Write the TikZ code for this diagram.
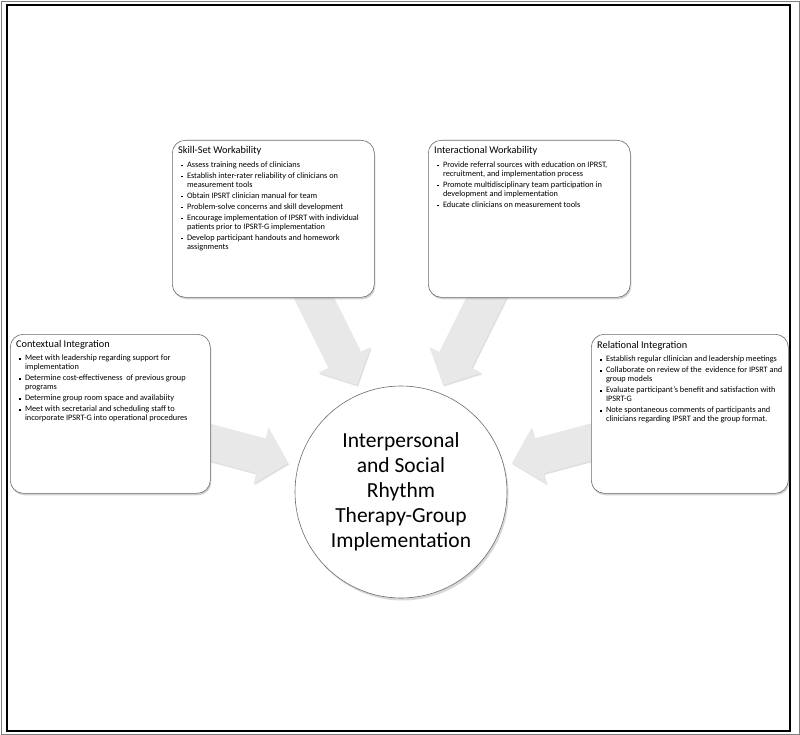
\documentclass[tikz,border=0pt]{standalone}
\usepackage{fontspec}
\setmainfont{Carlito}
\usetikzlibrary{calc,shadows}
\tikzset{
  panel/.style={draw=gray!85!black, line width=0.6pt, fill=white, rounded corners=13pt,
    drop shadow={shadow xshift=1pt, shadow yshift=-2pt, opacity=0.35}},
  paneltitle/.style={anchor=west, inner sep=0pt, font=\fontsize{10.3}{12}\selectfont},
  panellist/.style={anchor=north west, inner sep=0pt, font=\fontsize{8.3}{9}\selectfont},
  hub/.style={circle, draw=gray!85!black, line width=0.6pt, fill=white, minimum size=212pt,
    inner sep=0pt, align=center, font=\fontsize{21.5}{25}\selectfont,
    drop shadow={shadow xshift=1.5pt, shadow yshift=-2.5pt, opacity=0.3}},
  blockarrow/.style={fill=gray!18, draw=none,
    drop shadow={shadow xshift=1pt, shadow yshift=-1.5pt, opacity=0.25}},
}
\newcommand{\bul}{\raisebox{1pt}{\rule{1.8pt}{1.8pt}}}
\newcommand{\barrow}[3]{% name, start, end
  \coordinate (#1-s) at (#2);
  \coordinate (#1-e) at (#3);
  \coordinate (#1-hb) at ($(#1-e)!28pt!(#1-s)$);
  \fill[blockarrow] ($(#1-s)!18pt!90:(#1-e)$) -- ($(#1-hb)!18pt!-90:(#1-s)$)
     -- ($(#1-hb)!29pt!-90:(#1-s)$) -- (#1-e) -- ($(#1-hb)!29pt!90:(#1-s)$)
     -- ($(#1-hb)!18pt!90:(#1-s)$) -- ($(#1-s)!18pt!-90:(#1-e)$) -- cycle;
}
\begin{document}
\begin{tikzpicture}[x=1pt,y=1pt]
\useasboundingbox (0,0) rectangle (800,-735);
\fill[white] (0,0) rectangle (800,-735);
% frame
\draw[gray, line width=0.8pt] (1,-1) rectangle (799,-734);
\draw[black, line width=2.8pt] (7,-5) rectangle (790,-731);

% block arrows
\barrow{a1}{300,-270}{357,-385}
\barrow{a2}{500,-270}{443,-385}
\barrow{a3}{190,-437}{288,-463}
\barrow{a4}{610,-437}{512,-463}

% panels
\node[panel, minimum width=202pt, minimum height=157pt, anchor=north west] (ss) at (172,-140) {};
\node[panel, minimum width=202pt, minimum height=157pt, anchor=north west] (iw) at (428,-140) {};
\node[panel, minimum width=200pt, minimum height=159pt, anchor=north west] (ci) at (10,-334) {};
\node[panel, minimum width=197pt, minimum height=159pt, anchor=north west] (ri) at (591,-334) {};

% titles
\node[paneltitle] (sst) at ($(ss.north west)+(6,-11)$) {Skill-Set Workability};
\node[paneltitle] (iwt) at ($(iw.north west)+(6,-11)$) {Interactional Workability};
\node[paneltitle] (cit) at ($(ci.north west)+(6,-11)$) {Contextual Integration};
\node[paneltitle] (rit) at ($(ri.north west)+(6,-12)$) {Relational Integration};

% lists
\node[panellist] (ssl) at ($(ss.north west)+(9,-21)$) {%
\begin{tabular}{@{}l@{\hspace{4pt}}l@{}}
\bul & Assess training needs of clinicians\\[2pt]
\bul & Establish inter-rater reliability of clinicians on\\
     & measurement tools\\[2pt]
\bul & Obtain IPSRT clinician manual for team\\[2pt]
\bul & Problem-solve concerns and skill development\\[2pt]
\bul & Encourage implementation of IPSRT with individual\\
     & patients prior to IPSRT-G implementation\\[2pt]
\bul & Develop participant handouts and homework\\
     & assignments
\end{tabular}};
\node[panellist] (iwl) at ($(iw.north west)+(9,-21)$) {%
\begin{tabular}{@{}l@{\hspace{4pt}}l@{}}
\bul & Provide referral sources with education on IPRST,\\
     & recruitment, and implementation process\\[2pt]
\bul & Promote multidisciplinary team participation in\\
     & development and implementation\\[2pt]
\bul & Educate clinicians on measurement tools
\end{tabular}};
\node[panellist] (cil) at ($(ci.north west)+(9,-20)$) {%
\begin{tabular}{@{}l@{\hspace{4pt}}l@{}}
\bul & Meet with leadership regarding support for\\
     & implementation\\[2pt]
\bul & Determine cost-effectiveness\ \ of previous group\\
     & programs\\[2pt]
\bul & Determine group room space and availabiity\\[2pt]
\bul & Meet with secretarial and scheduling staff to\\
     & incorporate IPSRT-G into operational procedures
\end{tabular}};
\node[panellist] (ril) at ($(ri.north west)+(9,-21)$) {%
\begin{tabular}{@{}l@{\hspace{4pt}}l@{}}
\bul & Establish regular cllinician and leadership meetings\\[2pt]
\bul & Collaborate on review of the\ \ evidence for IPSRT and\\
     & group models\\[2pt]
\bul & Evaluate participant's benefit and satisfaction with\\
     & IPSRT-G\\[2pt]
\bul & Note spontaneous comments of participants and\\
     & clinicians regarding IPSRT and the group format.
\end{tabular}};

% hub
\node[hub] (hub) at (401,-492) {Interpersonal\\and Social\\Rhythm\\Therapy-Group\\Implementation};
\end{tikzpicture}
\end{document}
